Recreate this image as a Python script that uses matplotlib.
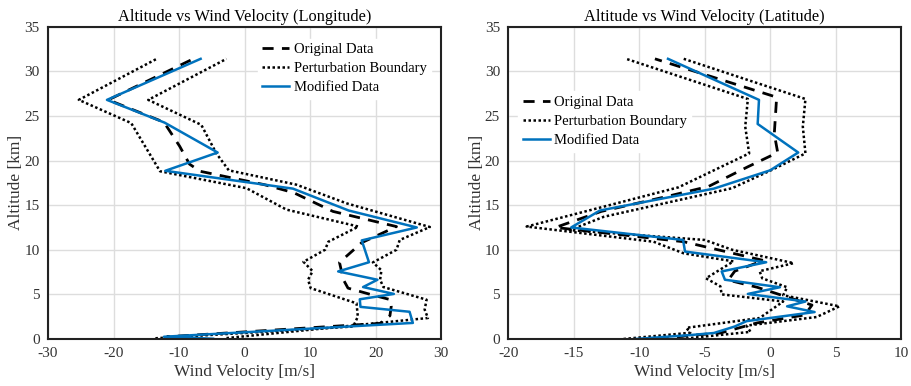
import numpy as np
import matplotlib
matplotlib.use("Agg")
import matplotlib.pyplot as plt

plt.rcParams['font.family'] = ['Liberation Serif', 'DejaVu Serif']
plt.rcParams['axes.unicode_minus'] = False

# ---- Longitude (left panel) ----
lon_mod_alt = [0.03, 0.25, 1.8, 3.05, 3.6, 4.45, 5.05, 5.82, 6.64, 7.57, 8.6, 11.05, 12.5, 14.4, 16.85, 18.85, 20.9, 24.25, 26.8, 31.4]
lon_mod = [-4.8, -12.3, 25.7, 25.2, 17.7, 17.6, 22.8, 18.1, 20.3, 14.3, 19.0, 17.9, 26.3, 15.9, 7.4, -12.1, -4.1, -12.2, -21.0, -6.7]

lon_org_alt = [0.0, 0.25, 1.75, 2.6, 3.65, 4.4, 4.96, 5.7, 6.64, 8.58, 10.8, 12.6, 14.3, 16.4, 17.3, 18.8, 19.6, 21.6, 24.3, 26.8, 31.4]
lon_org = [-7.5, -11.8, 20.7, 22.2, 22.4, 22.3, 19.4, 15.8, 15.1, 14.5, 17.9, 23.2, 13.5, 7.5, 3.0, -6.8, -8.4, -9.9, -12.3, -20.8, -7.8]

lon_lo_alt = [0.08, 1.4, 2.5, 4.0, 5.7, 6.64, 7.6, 8.65, 10.0, 10.9, 12.6, 14.5, 16.9, 18.8, 24.2, 26.8, 31.4]
lon_lo = [-13.6, 16.6, 17.3, 17.1, 10.1, 9.7, 10.4, 9.0, 12.3, 12.8, 17.4, 6.4, 0.3, -12.9, -17.3, -25.3, -13.4]

lon_hi_alt = [0.1, 2.35, 3.3, 4.4, 5.82, 6.64, 7.7, 8.58, 10.0, 11.1, 12.55, 15.2, 17.3, 18.9, 20.8, 24.0, 26.8, 31.4]
lon_hi = [-2.75, 28.0, 27.5, 27.8, 21.2, 20.7, 20.9, 19.6, 23.2, 23.7, 28.3, 15.6, 7.9, -2.4, -4.3, -6.6, -14.7, -2.75]

# ---- Latitude (right panel) ----
lat_mod_alt = [0.0, 0.45, 0.67, 1.4, 2.0, 3.02, 3.66, 4.2, 5.05, 5.8, 6.64, 7.57, 8.6, 9.8, 11.1, 12.5, 14.4, 16.85, 18.9, 20.9, 24.1, 26.8, 31.4]
lat_mod = [-10.3, -6.0, -4.3, -2.7, -1.8, 3.4, 1.3, 2.7, -1.7, 0.75, -3.45, -3.7, -0.3, -6.5, -6.65, -15.2, -13.0, -4.3, 0.0, 2.15, -0.95, -0.85, -7.8]

lat_org_alt = [0.0, 0.4, 0.67, 1.8, 2.7, 3.8, 5.8, 6.6, 7.6, 8.8, 10.9, 12.5, 14.3, 16.0, 17.1, 19.3, 20.9, 23.0, 27.1, 31.4]
lat_org = [-8.6, -6.1, -3.8, -1.0, 2.66, 3.2, -1.0, -3.2, -2.7, -0.5, -6.6, -16.4, -12.9, -7.8, -4.7, -1.7, 0.58, 0.32, 0.5, -8.8]

lat_lo_alt = [0.0, 0.7, 1.25, 2.35, 4.2, 5.0, 5.9, 6.8, 8.7, 9.6, 10.9, 12.6, 17.0, 20.8, 23.8, 26.9, 31.4]
lat_lo = [-11.2, -6.1, -6.4, -0.8, 1.0, -3.7, -3.8, -4.9, -2.8, -6.6, -8.9, -18.6, -7.0, -1.6, -1.9, -1.7, -11.0]

lat_hi_alt = [0.0, 0.8, 1.5, 2.46, 3.66, 4.9, 5.8, 6.8, 7.6, 8.5, 10.0, 11.1, 12.2, 13.7, 16.9, 19.0, 20.8, 23.8, 26.9, 31.4]
lat_hi = [-6.8, -1.5, -1.8, 3.55, 5.3, 1.0, 1.3, -0.6, -0.8, 1.8, -2.9, -5.0, -15.3, -12.7, -2.9, 0.2, 2.7, 2.5, 2.7, -6.6]

blue = '#0072BD'

fig = plt.figure(figsize=(9.11, 3.86), dpi=100)
ax1 = fig.add_axes([0.0527, 0.1218, 0.4314, 0.809])
ax2 = fig.add_axes([0.558, 0.1218, 0.431, 0.809])


def draw(ax, org_alt, org, lo_alt, lo, hi_alt, hi, mod_alt, mod, title, xlim, xticks, anchor):
    ax.plot(org, org_alt, color='black', lw=2, ls=(0, (4, 3)), label='Original Data')
    ax.plot(lo, lo_alt, color='black', lw=1.8, ls=(0, (1, 1)), label='Perturbation Boundary')
    ax.plot(hi, hi_alt, color='black', lw=1.8, ls=(0, (1, 1)))
    ax.plot(mod, mod_alt, color=blue, lw=1.8, label='Modified Data')
    ax.set_xlim(*xlim)
    ax.set_ylim(0, 35)
    ax.set_xticks(xticks)
    ax.set_yticks(np.arange(0, 36, 5))
    ax.grid(True, color='#dddddd', lw=1)
    ax.set_axisbelow(True)
    ax.tick_params(length=0, labelsize=11, pad=6, colors='#333333')
    for s in ax.spines.values():
        s.set_linewidth(1.5)
        s.set_color('#222222')
    ax.set_title(title, fontsize=11.8, pad=4)
    ax.set_xlabel('Wind Velocity [m/s]', fontsize=12.5, color='#333333', labelpad=3)
    ax.set_ylabel('Altitude [km]', fontsize=12.5, color='#333333', labelpad=0)
    ax.legend(loc='upper left', bbox_to_anchor=anchor, fontsize=10.5, frameon=True,
              framealpha=1, edgecolor='white', handlelength=1.85, handletextpad=0.3,
              labelspacing=0.4, borderpad=0.3)


draw(ax1, lon_org_alt, lon_org, lon_lo_alt, lon_lo, lon_hi_alt, lon_hi, lon_mod_alt, lon_mod,
     'Altitude vs Wind Velocity (Longitude)', (-30, 30), np.arange(-30, 31, 10), (0.516, 0.985))
draw(ax2, lat_org_alt, lat_org, lat_lo_alt, lat_lo, lat_hi_alt, lat_hi, lat_mod_alt, lat_mod,
     'Altitude vs Wind Velocity (Latitude)', (-20, 10), np.arange(-20, 11, 5), (0.007, 0.816))

fig.savefig('out.png', dpi=100)
